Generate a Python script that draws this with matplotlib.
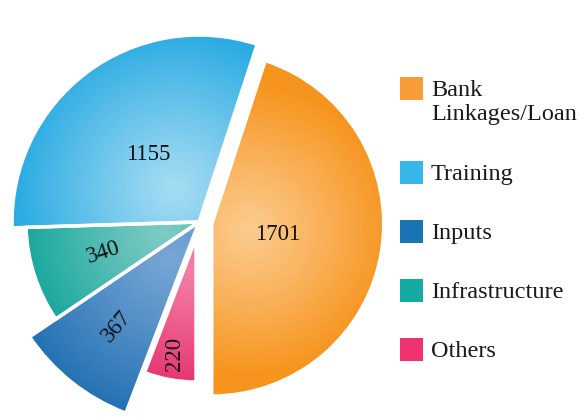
import numpy as np
import matplotlib
matplotlib.use("Agg")
import matplotlib.pyplot as plt
from matplotlib.patches import Rectangle, Wedge
from matplotlib.colors import to_rgb

# ---- data (pie order, counter-clockwise from the bottom) ----
categories = ["Bank\nLinkages/Loan", "Training", "Infrastructure", "Inputs", "Others"]
values = [1701, 1155, 340, 367, 220]
value_labels = ["1701", "1155", "340", "367", "220"]
legend_order = ["Bank\nLinkages/Loan", "Training", "Inputs", "Infrastructure", "Others"]

# ---- styles (pie order) ----
base_colors = ["#F7941D", "#2AABE2", "#12A59A", "#1C6DB0", "#E5306C"]
light_colors = ["#FCCB8E", "#A6DCF3", "#7DCBC4", "#78A6D6", "#F47FA6"]
legend_colors = ["#F89C37", "#35B8E9", "#15AAA2", "#1A75B5", "#EE3370"]
radii = [1.0, 1.087, 1.006, 1.19, 0.837]
explode = [0.075, 0.0, 0.0, 0.0, 0.095]
label_frac = [0.39, 0.45, 0.58, 0.65, 0.82]
label_rot = [0, 0, 18, 50, 90]
SERIF = ["Liberation Serif", "DejaVu Serif"]

W, H = 581, 417
S = 172.0            # pixels per pie unit
cx, cy = 199, 222    # pie centre in pixels (from top-left)

fig = plt.figure(figsize=(W / 100, H / 100), dpi=100)
ax = fig.add_axes([0, 0, 1, 1])
xlim = (-cx / S, (W - cx) / S)
ylim = (-(H - cy) / S, cy / S)

wedges, _ = ax.pie(values, explode=explode, startangle=-90, counterclock=True,
                   radius=1.0, colors=base_colors,
                   wedgeprops=dict(edgecolor="white", linewidth=2.5))

nx, ny = 620, 450
xs = np.linspace(xlim[0], xlim[1], nx)
ys = np.linspace(ylim[0], ylim[1], ny)
X, Y = np.meshgrid(xs, ys)

for i, w in enumerate(wedges):
    w.set_radius(radii[i])
    r = radii[i]
    c = np.array(w.center, dtype=float)
    tm = np.deg2rad(0.5 * (w.theta1 + w.theta2))
    hx, hy = c + 0.22 * r * np.array([np.cos(tm), np.sin(tm)])
    d = np.hypot(X - hx, Y - hy) / r
    t = np.clip(d / 0.85, 0, 1) ** 1.1
    base = np.array(to_rgb(base_colors[i]))
    light = np.array(to_rgb(light_colors[i]))
    img = light * (1 - t)[..., None] + base * t[..., None]
    im = ax.imshow(img, extent=(xlim[0], xlim[1], ylim[0], ylim[1]), origin="lower",
                   zorder=w.get_zorder() + 0.1, interpolation="bilinear")
    im.set_clip_path(w)
    ax.add_patch(Wedge(w.center, r, w.theta1, w.theta2, facecolor="none",
                       edgecolor="white", linewidth=2.5, zorder=w.get_zorder() + 0.2))
    lx, ly = c + label_frac[i] * r * np.array([np.cos(tm), np.sin(tm)])
    ax.text(lx, ly, value_labels[i], ha="center", va="center", rotation=label_rot[i],
            fontsize=16.5, family=SERIF, color="#111111", zorder=10)

ax.set_xlim(*xlim)
ax.set_ylim(*ylim)
ax.set_aspect("equal")
ax.axis("off")

# ---- legend (drawn in pixel space) ----
def px(x, y):
    return x / W, 1 - y / H

y_top = 77
for name in legend_order:
    idx = categories.index(name)
    x0, y0 = px(400, y_top + 23)
    ax.add_patch(Rectangle((x0, y0), 23 / W, 23 / H, transform=ax.transAxes,
                           facecolor=legend_colors[idx], edgecolor="none", zorder=10))
    lines = name.split("\n")
    for k, line in enumerate(lines):
        tx, ty = px(431, y_top + 19 + 24 * k)
        ax.text(tx, ty, line, transform=ax.transAxes, ha="left", va="baseline",
                fontsize=17.5, family=SERIF, color="#1a1a1a", zorder=10)
    y_top += 59 + 25 * (len(lines) - 1)

fig.savefig("out.png", dpi=100)
